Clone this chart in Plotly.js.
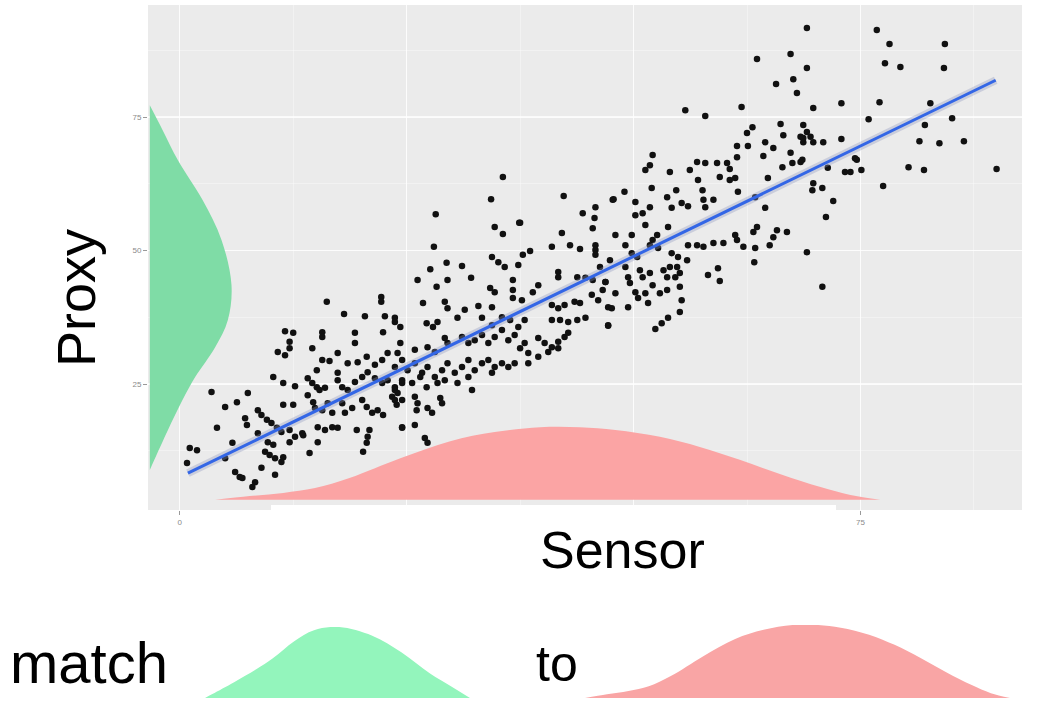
<!DOCTYPE html>
<html><head><meta charset="utf-8">
<script src="https://cdn.plot.ly/plotly-3.0.1.min.js"></script>
<style>html,body{margin:0;padding:0;background:#fff}#chart{width:1046px;height:705px}</style>
</head><body><div id="chart"></div>
<script>
// ---- scatter points (Sensor, Proxy) ----
const sensorA = [16.2,22.2,22.2,18.1,20.4,22.6,23.7,11.6,12.5,15.7,
  15.7,19.3,22.4,12.1,19.3,10.8,11.6,12.1,14.6,17.4,
  15.7,16.5,18.5,19.6,20.6,21.5,22.3,22.9,15.1,17.4,
  10.3,11.4,12.7,14.1,14.6,15.1,15.4,16.0,17.4,17.9,
  18.5,19.3,20.1,20.7,21.5,22.3,22.9,23.7,24.5,3.5,
  7.5,6.3,5.0,11.4,12.5,14.1,14.7,14.9,15.7,16.3,
  16.8,17.9,18.2,19.0,20.1,20.6,21.2,21.8,22.4,23.4,
  23.9,24.5,8.6,9.0,9.6,10.1,7.2,7.4,4.1,10.7,
  11.2,12.1,12.7,13.5,15.2,16.0,16.8,17.4,19.5,20.9,
  20.7,24.5,5.8,8.6,9.7,10.3,12.1,13.6,15.2,20.6,
  1.1,1.9,5.0,9.4,9.9,10.5,11.2,11.4,14.3,20.2,
  0.8,9.0,10.5,6.1,6.6,6.9,8.3,8.0];
const proxyA = [40.4,41.3,40.4,38.1,37.7,37.7,36.6,34.9,34.6,34.7,
  33.8,34.6,34.7,32.9,32.7,31.0,30.4,31.7,31.7,30.8,
  29.5,29.3,28.9,29.1,30.1,28.6,29.5,30.8,27.6,27.1,
  26.3,25.2,24.6,26.1,25.2,24.4,23.9,24.3,25.7,24.4,
  23.9,25.4,26.3,27.2,26.1,25.2,25.7,23.9,25.2,23.5,
  23.3,21.6,20.7,21.1,21.1,22.9,21.6,20.5,20.1,21.4,
  19.6,21.4,19.6,20.5,22.0,20.7,19.6,20.1,19.2,22.6,
  21.1,22.0,20.1,19.2,18.3,17.7,18.6,17.3,16.8,16.8,
  16.0,16.4,15.1,15.8,16.9,16.4,16.9,16.8,16.4,16.4,
  15.1,16.9,14.0,15.8,14.1,13.6,14.1,15.4,14.1,14.0,
  13.0,12.6,11.1,12.3,11.7,11.1,10.4,11.3,12.1,12.3,
  10.2,9.3,8.0,8.5,7.6,7.4,6.6,5.7];

const sensorB = [34.7,35.6,37.5,42.1,45.5,28.0,41.0,43.0,44.1,45.8,
  45.8,45.8,34.4,35.1,37.8,38.6,29.4,31.1,27.6,35.8,
  37.3,26.2,28.3,29.5,32.1,34.2,34.7,36.7,36.7,39.5,
  38.9,41.7,41.7,43.8,44.7,45.5,46.9,26.8,29.2,29.5,
  31.4,32.9,34.4,36.7,37.7,41.0,41.7,42.4,43.5,44.1,
  45.4,46.1,47.2,23.7,24.3,27.2,27.9,28.4,30.6,33.3,
  34.4,35.5,36.4,37.3,38.0,41.0,41.9,42.8,43.8,44.7,
  47.2,24.3,24.0,25.9,27.3,28.1,29.2,29.5,31.1,31.8,
  32.5,33.3,34.0,34.7,35.5,36.2,36.9,37.5,38.0,38.4,
  39.5,40.2,41.0,41.7,42.4,42.8,23.7,24.5,25.1,25.9,
  26.7,27.3,28.1,28.9,29.5,30.3,31.1,31.8,32.5,33.3,
  34.0,34.7,35.5,36.2,36.9,38.4,39.5,40.6,41.7,23.7,
  24.5,25.6,26.5,27.2,28.4,29.2,30.6,31.8,32.2,34.4,
  23.7,24.0,25.9,26.2,28.7,28.9,26.1,27.3,27.8,24.5,
  25.9,27.0,27.3];
const proxyB = [54.4,53.1,55.2,53.3,54.2,50.7,50.7,51.0,50.3,51.0,
  50.1,49.2,48.8,47.8,49.2,49.9,47.7,47.1,46.5,46.9,
  47.3,44.5,43.2,44.5,44.9,43.0,42.2,44.5,42.6,43.5,
  42.2,46.0,45.0,45.0,44.9,44.5,44.1,40.2,40.4,39.2,
  38.9,39.6,39.4,41.1,40.7,39.8,39.2,39.8,40.4,40.2,
  41.7,40.7,39.4,37.4,35.7,36.4,35.7,36.6,37.4,37.4,
  36.0,37.5,37.0,35.7,37.0,37.0,37.0,36.6,37.0,37.4,
  35.9,32.7,30.8,31.4,31.9,31.0,33.6,32.7,33.8,32.7,
  33.2,34.2,32.7,33.8,35.1,33.2,34.2,31.7,32.7,30.8,
  33.6,32.7,31.9,32.9,33.8,34.6,28.2,29.5,27.6,28.9,
  27.1,28.2,26.3,27.6,28.9,27.1,28.2,29.5,27.6,28.9,
  29.5,28.2,28.9,28.2,28.9,28.9,30.1,31.0,31.7,24.4,
  25.7,25.2,26.3,24.4,25.2,25.7,25.2,26.3,23.9,27.1,
  22.0,23.3,22.6,21.4,22.4,21.4,20.1,20.5,19.6,16.8,
  17.3,14.9,14.0];

const sensorC = [35.6,34.3,42.3,28.2,37.4,44.4,45.8,45.7,47.7,
  63.6,67.3,69.1,69.1,65.7,67.6,68.0,55.7,57.9,61.9];
const proxyC = [63.8,59.6,60.2,56.8,55.2,57.0,58.1,56.1,59.5,
  85.9,86.8,91.7,84.2,81.2,82.1,79.5,76.3,75.2,76.9];

const sensorD = [63.1,62.5,66.2,66.5,68.4,68.7,61.4,62.6,64.5,65.4,
  64.3,67.3,52.1,51.8,51.3,57.0,57.9,59.2,60.3,61.4,
  66.4,67.5,68.4,54.0,56.2,60.6,59.5,60.6,61.2,57.1,
  57.6,64.8,52.0,54.7,53.7,49.0,47.8,61.5,57.7,58.8,
  57.9,63.4,50.2,51.8,54.2,55.3,56.0,64.5,50.2,51.0,
  51.3,53.8,48.0,49.8,52.6,52.1,61.2,61.4,63.6,63.2,
  65.8,66.9,65.4,65.0,56.0,57.0,57.7,58.8,59.9,62.1,
  63.4,69.1,49.1,49.8,50.4,51.8,52.7,46.3,47.4,49.1,
  49.4,49.6,50.7,51.0,51.8,53.3,53.7,54.0,54.8,54.6,
  55.1,55.9,54.2,54.9,58.2,59.3,59.5,63.3,46.9,46.6,
  48.0,47.6,50.2,50.5,51.3,52.1,52.9,53.7,55.1,55.3,
  49.4,51.6,55.1,53.8,53.1,52.4,47.2];
const proxyD = [73.1,72.0,73.7,71.6,71.3,70.3,69.6,69.6,70.3,69.2,
  67.7,68.3,67.9,66.0,65.1,66.6,66.4,66.4,66.4,67.5,
  65.6,66.4,66.6,64.7,65.1,65.3,63.8,63.2,63.6,63.2,
  61.3,63.6,61.7,61.3,60.0,61.0,59.6,61.0,59.5,59.5,
  58.1,60.0,59.1,58.1,58.0,58.9,58.3,58.0,56.6,57.0,
  54.8,54.4,52.9,52.9,52.9,52.0,52.9,52.0,54.4,53.5,
  53.8,53.5,52.5,51.0,51.0,51.0,50.7,51.4,51.4,50.7,
  50.5,49.7,51.0,49.5,48.8,51.0,50.5,46.9,48.2,46.9,
  45.0,43.9,46.3,45.0,45.8,46.3,45.0,46.9,46.9,45.0,
  45.8,48.2,49.5,48.8,45.4,46.7,44.3,47.8,44.1,42.6,
  42.0,39.2,42.2,41.1,42.0,43.5,42.0,42.6,43.2,40.7,
  39.4,40.2,38.5,37.4,36.4,35.3,36.0];

const sensorE = [76.8,78.2,84.3,77.7,79.4,84.2,69.8,72.9,77.1,82.7,
  75.9,85.1,82.1,68.7,69.1,68.7,69.5,69.8,70.9,72.9,
  81.5,83.7,86.4,68.6,74.4,74.6,71.4,73.3,73.9,75.1,
  80.3,82.0,90.0,69.8,69.7,70.8,77.5,72.0,71.2,70.8];
const proxyE = [91.3,88.7,88.7,85.1,84.4,84.2,76.7,77.6,77.8,77.6,
  74.6,74.8,73.5,73.5,72.2,71.1,71.3,70.3,70.3,70.9,
  70.5,70.1,70.5,67.0,67.3,67.0,65.5,64.7,64.7,65.1,
  65.6,65.1,65.3,62.6,61.3,61.7,62.1,59.3,56.3,43.2];

const sensor = [].concat(sensorA, sensorB, sensorC, sensorD, sensorE);
const proxy  = [].concat(proxyA, proxyB, proxyC, proxyD, proxyE);

// ---- fitted line ----
const fitX = [0.9, 89.9];
const fitY = [8.3, 81.9];

// ---- marginal densities ----
// Proxy density (drawn sideways along the left edge)
const proxyDensH = [-3.3,-1.9,-0.2,2.5,4.6,5.7,5.3,3.9,1.7,0.3,-1.3,-2.8,-3.3];
const proxyDensV = [77.2,72.6,66.9,59.5,52.0,43.5,37.0,31.9,26.3,22.0,16.4,10.8,8.9];
// Sensor density (drawn along the bottom edge)
const sensorDensV = [3.9,7.7,11.4,14.9,18.7,24.3,29.8,34.7,39.7,44.1,48.0,52.9,57.3,61.7,66.2,70.6,73.9,77.2];
const sensorDensH = [3.3,4.0,4.6,5.5,7.4,11.1,14.3,16.0,16.9,16.9,16.4,15.1,13.2,10.8,8.1,5.7,4.2,3.3];

// ---- ticks (the 25 and 50 labels of the x axis are hidden behind the caption box in the reference) ----
const xTicks = [0, 25, 50, 75];
const xTickLabels = ['0', '', '', '75'];
const yTicks = [25, 50, 75];
const yTickLabels = ['25', '50', '75'];

const W = 1046, H = 705;
const px = v => v / W;
const py = v => 1 - v / H;

const FONT = 'Liberation Sans, Arial, Helvetica, sans-serif';

const traces = [
  {x: proxyDensH, y: proxyDensV, type: 'scatter', mode: 'lines', fill: 'toself',
   fillcolor: '#7FDCA6', line: {width: 0, shape: 'spline'}, hoverinfo: 'skip', xaxis: 'x', yaxis: 'y'},
  {x: sensorDensV, y: sensorDensH, type: 'scatter', mode: 'lines', fill: 'toself',
   fillcolor: '#FBA4A4', line: {width: 0, shape: 'spline'}, hoverinfo: 'skip', xaxis: 'x', yaxis: 'y'},
  {x: sensor, y: proxy, type: 'scatter', mode: 'markers',
   marker: {color: '#111', size: 6.5}, xaxis: 'x', yaxis: 'y'},
  {x: fitX, y: fitY, type: 'scatter', mode: 'lines',
   line: {color: 'rgba(140,150,190,0.35)', width: 8}, hoverinfo: 'skip', xaxis: 'x', yaxis: 'y'},
  {x: fitX, y: fitY, type: 'scatter', mode: 'lines',
   line: {color: '#3366E6', width: 3}, xaxis: 'x', yaxis: 'y'},
  // bottom "match ... to ..." bells
  {x: proxyDensV, y: proxyDensH, type: 'scatter', mode: 'lines', fill: 'toself',
   fillcolor: '#93F5BC', line: {width: 0, shape: 'spline'}, hoverinfo: 'skip', xaxis: 'x2', yaxis: 'y2'},
  {x: sensorDensV, y: sensorDensH, type: 'scatter', mode: 'lines', fill: 'toself',
   fillcolor: '#F9A5A5', line: {width: 0, shape: 'spline'}, hoverinfo: 'skip', xaxis: 'x3', yaxis: 'y3'}
];

const axisCommon = {
  showgrid: true, gridcolor: 'rgba(255,255,255,0.75)', gridwidth: 1.3,
  zeroline: false, showline: false, ticks: 'outside', ticklen: 4, tickwidth: 1,
  tickcolor: '#9a9a9a', tickfont: {family: FONT, size: 8, color: '#8a8a8a'},
  minor: {dtick: 12.5, tick0: 0, showgrid: true, gridcolor: 'rgba(255,255,255,0.5)', gridwidth: 0.7, ticks: ''}
};

const layout = {
  width: W, height: H,
  margin: {l: 0, r: 0, t: 0, b: 0},
  paper_bgcolor: '#ffffff', plot_bgcolor: 'rgba(0,0,0,0)',
  showlegend: false,
  xaxis: Object.assign({}, axisCommon, {domain: [px(148), px(1022)], range: [-3.5, 92.8],
    tickmode: 'array', tickvals: xTicks, ticktext: xTickLabels, anchor: 'y'}),
  yaxis: Object.assign({}, axisCommon, {domain: [py(510), py(5)], range: [1.4, 96.0],
    tickmode: 'array', tickvals: yTicks, ticktext: yTickLabels, anchor: 'x'}),
  xaxis2: {domain: [px(205), px(470)], range: [8.9, 77.2], visible: false, anchor: 'y2', fixedrange: true},
  yaxis2: {domain: [py(698), py(627)], range: [-3.3, 5.7], visible: false, anchor: 'x2', fixedrange: true},
  xaxis3: {domain: [px(585), px(1010)], range: [3.9, 77.2], visible: false, anchor: 'y3', fixedrange: true},
  yaxis3: {domain: [py(698), py(625)], range: [3.3, 16.9], visible: false, anchor: 'x3', fixedrange: true},
  shapes: [
    // grey panel behind the main plot only
    {type: 'rect', xref: 'x domain', yref: 'y domain', x0: 0, x1: 1, y0: 0, y1: 1,
     fillcolor: '#EBEBEB', line: {width: 0}, layer: 'below'},
    // white caption box over the x-axis labels
    {type: 'rect', xref: 'paper', yref: 'paper', x0: px(271), x1: px(836), y0: py(600), y1: py(505),
     fillcolor: '#ffffff', line: {width: 0}, layer: 'above'}
  ],
  annotations: [
    {text: 'Sensor', xref: 'paper', yref: 'paper', x: px(622), y: py(550), xanchor: 'center', yanchor: 'middle',
     showarrow: false, font: {family: FONT, size: 52, color: '#000'}},
    {text: 'Proxy', xref: 'paper', yref: 'paper', x: px(76), y: py(298), xanchor: 'center', yanchor: 'middle',
     textangle: -90, showarrow: false, font: {family: FONT, size: 54, color: '#000'}},
    {text: 'match', xref: 'paper', yref: 'paper', x: px(89), y: py(662), xanchor: 'center', yanchor: 'middle',
     showarrow: false, font: {family: FONT, size: 58, color: '#000'}},
    {text: 'to', xref: 'paper', yref: 'paper', x: px(557), y: py(664), xanchor: 'center', yanchor: 'middle',
     showarrow: false, font: {family: FONT, size: 50, color: '#000'}}
  ]
};

Plotly.newPlot('chart', traces, layout, {displayModeBar: false, staticPlot: true});
</script></body></html>
